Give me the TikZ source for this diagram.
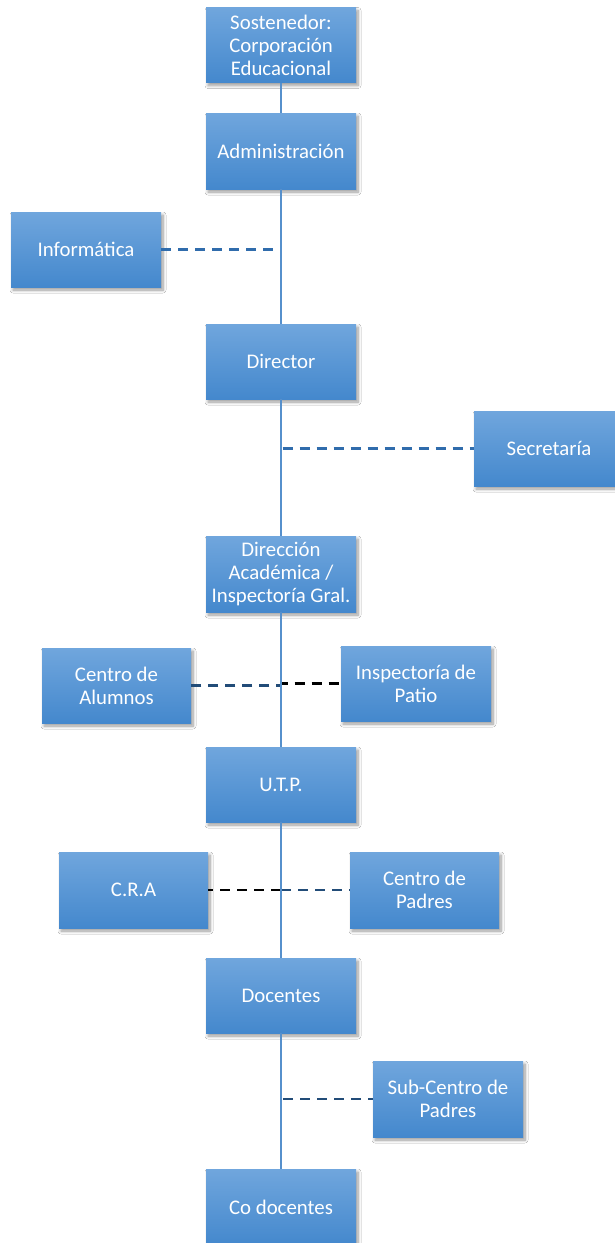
\documentclass[tikz,border=0pt]{standalone}
\usepackage{fontspec}
\setmainfont{Carlito}
\usetikzlibrary{shadows.blur}
\definecolor{boxtop}{RGB}{112,166,221}
\definecolor{boxbot}{RGB}{68,136,205}
\definecolor{mainline}{RGB}{86,144,204}
\definecolor{dashblue}{RGB}{48,108,172}
\definecolor{dashdark}{RGB}{34,76,120}
\begin{document}
\begin{tikzpicture}[x=1pt,y=-1pt,
  orgbox/.style={minimum width=150pt, minimum height=75pt, inner sep=2pt,
    top color=boxtop, bottom color=boxbot, draw=none, text=white,
    align=center, font=\fontsize{20.8}{23}\selectfont,
    blur shadow={shadow xshift=2pt, shadow yshift=-3pt, shadow blur radius=3pt, shadow blur steps=8, shadow opacity=40}},
  trunk/.style={draw=mainline, line width=2.3pt},
  dlink/.style={draw=dashblue, line width=2.5pt, dash pattern=on 10pt off 7pt},
  dlinkdark/.style={draw=dashdark, line width=2.5pt, dash pattern=on 10pt off 7pt},
  dlinkblack/.style={draw=black, line width=2.5pt, dash pattern=on 10pt off 7pt}]
\useasboundingbox (0,0) rectangle (615,1243);
\fill[white] (0,0) rectangle (615,1243);
% nodes
\node[orgbox] (sost) at (281,45) {Sostenedor:\\Corporación\\Educacional};
\node[orgbox, minimum height=76pt] (adm) at (281,151) {Administración};
\node[orgbox] (inf) at (86,249.5) {Informática};
\node[orgbox] (dir) at (281,361.5) {Director};
\node[orgbox] (sec) at (549,448.5) {Secretaría};
\node[orgbox, minimum height=76pt] (dac) at (281,574) {Dirección\\Académica /\\Inspectoría Gral.};
\node[orgbox, minimum width=149pt] (alu) at (116.5,685.5) {Centro de\\Alumnos};
\node[orgbox] (pat) at (416,683.5) {Inspectoría de\\Patio};
\node[orgbox] (utp) at (281,784.5) {U.T.P.};
\node[orgbox, minimum width=149pt, minimum height=76pt] (cra) at (133.5,890) {C.R.A};
\node[orgbox, minimum width=149pt, minimum height=76pt] (pad) at (424.5,890) {Centro de\\Padres};
\node[orgbox] (doc) at (281,995.5) {Docentes};
\node[orgbox, minimum height=76pt] (sub) at (448,1099) {Sub-Centro de\\Padres};
\node[orgbox, minimum height=76pt] (codoc) at (281,1207) {Co docentes};
% dashed side links (drawn below the trunk)
\coordinate (infj) at (inf.east -| adm.south);
\draw[dlink] (inf.east) -- (infj);
\draw[dlink] (dir.south) |- (sec.west);
\draw[dlinkdark] (dac.south) |- (alu.east);
\draw[dlinkblack] (dac.south) |- (pat.west);
\draw[dlinkblack] (utp.south) |- (cra.east);
\draw[dlinkdark] (utp.south) |- (pad.west);
\draw[dlinkdark] (doc.south) |- (sub.west);
% trunk
\draw[trunk] (sost.south) -- (adm.north);
\draw[trunk] (adm.south) -- (dir.north);
\draw[trunk] (dir.south) -- (dac.north);
\draw[trunk] (dac.south) -- (utp.north);
\draw[trunk] (utp.south) -- (doc.north);
\draw[trunk] (doc.south) -- (codoc.north);
\end{tikzpicture}
\end{document}
